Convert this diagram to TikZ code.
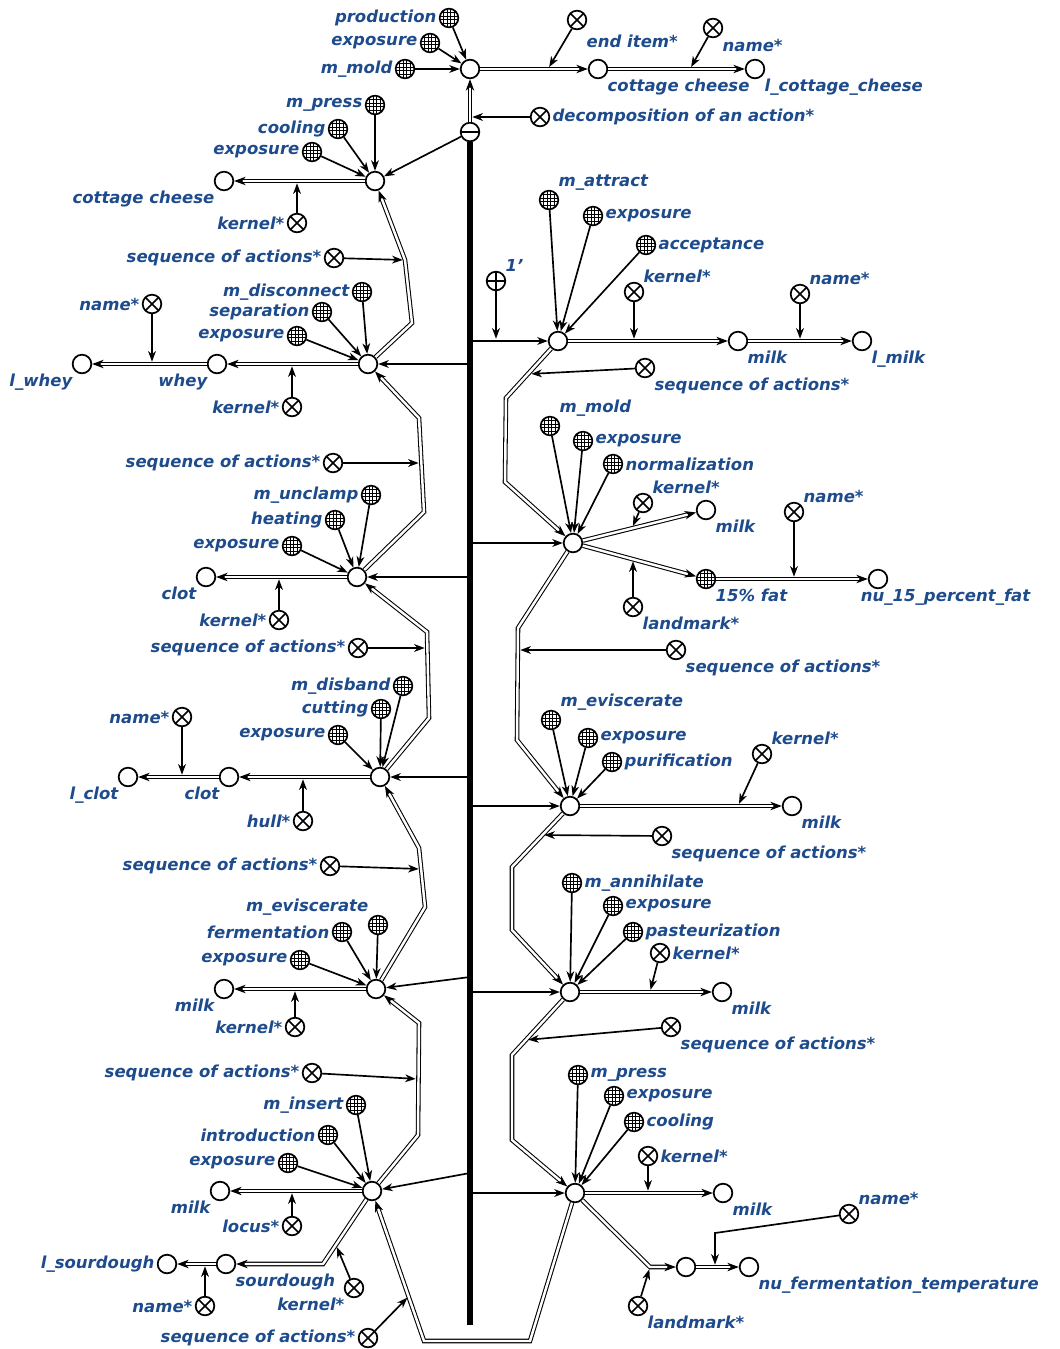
\documentclass[tikz,border=0pt]{standalone}
\usepackage{fontspec}
\setmainfont{DejaVu Sans}
\usepackage{tikz}
\usetikzlibrary{positioning,calc,arrows.meta}
\definecolor{LabelBlue}{HTML}{1E4B8C}
\definecolor{Ink}{HTML}{000000}

\tikzset{
	sc/.style={circle, draw=Ink, fill=white, line width=1pt, minimum size=10.6pt, inner sep=0pt},
	scclass/.style={sc, path picture={
			\foreach \off in {-3,-1,1,3}{
				\draw[line width=0.45pt] ([xshift=\off pt]path picture bounding box.north) -- ([xshift=\off pt]path picture bounding box.south);
				\draw[line width=0.45pt] ([yshift=\off pt]path picture bounding box.west) -- ([yshift=\off pt]path picture bounding box.east);
			}}},
	screl/.style={sc, path picture={
			\draw[line width=0.9pt] (path picture bounding box.north west) -- (path picture bounding box.south east);
			\draw[line width=0.9pt] (path picture bounding box.north east) -- (path picture bounding box.south west);
		}},
	scplus/.style={sc, path picture={
			\draw[line width=0.9pt] (path picture bounding box.north) -- (path picture bounding box.south);
			\draw[line width=0.9pt] (path picture bounding box.west) -- (path picture bounding box.east);
		}},
	scminus/.style={sc, path picture={
			\draw[line width=1.2pt] (path picture bounding box.west) -- (path picture bounding box.east);
		}},
	lbl/.style={text=LabelBlue, font=\bfseries\itshape\fontsize{9.4}{10}\selectfont, inner sep=1.2pt},
	arr/.style={draw=Ink, line width=0.95pt, -{Stealth[length=6pt,width=4.4pt,inset=1.8pt]}},
	attr/.style={arr, shorten >=1.3pt},
	pair/.style={draw=Ink, double=white, double distance=1.4pt, line width=0.6pt, -{Stealth[length=6.5pt,width=4.8pt,inset=1.9pt]}},
	bar/.style={draw=Ink, line width=3pt}
}

\begin{document}
\begin{tikzpicture}[x=0.02cm, y=-0.02cm]
	\useasboundingbox (0,0) rectangle (1060,1349);

	% top: the action as a whole
	\node[sc] (top) at (470,69) {};
	\node[scclass, label={[lbl]left:production}] (prodTop) at (449,18) {};
	\node[scclass, label={[lbl]left:exposure}] (expTop) at (430,43) {};
	\node[scclass, label={[lbl]left:m\_mold}] (moldTop) at (405,69) {};
	\node[scminus] (root) at (470,132) {};
	\node[screl, label={[lbl]right:decomposition of an action*}] (decomp) at (540,117) {};
	\node[screl, label={[lbl,yshift=-3pt]below right:end item*}] (endItem) at (577,20) {};
	\node[sc, label={[lbl]below right:cottage cheese}] (cheeseTop) at (598,69) {};
	\node[screl, label={[lbl,yshift=-1pt]below right:name*}] (nameTop) at (713,28) {};
	\node[sc, label={[lbl]below right:l\_cottage\_cheese}] (lCheese) at (755,69) {};
	\coordinate (decompTip) at (470,117);
	\coordinate (endItemTip) at (548,69);
	\coordinate (nameTopTip) at (690,69);
	\coordinate (barEnd) at (470,1325);

	\draw[bar] (root) -- (barEnd);
	\draw[pair] (root) -- (top);
	\draw[attr] (decomp) -- (decompTip);
	\foreach \src in {prodTop,expTop,moldTop} \draw[arr] (\src) -- (top);
	\draw[pair] (top) -- (cheeseTop);
	\draw[attr] (endItem) -- (endItemTip);
	\draw[pair] (cheeseTop) -- (lCheese);
	\draw[attr] (nameTop) -- (nameTopTip);

	% left chain
	\node[sc] (actL1) at (375,181) {};
	\node[scclass, label={[lbl]left:m\_press}] (pressL1) at (375,105) {};
	\node[scclass, label={[lbl]left:cooling}] (coolL1) at (338,129) {};
	\node[scclass, label={[lbl]left:exposure}] (expL1) at (312,152) {};
	\node[sc, label={[lbl]below left:cottage cheese}] (cheeseL1) at (224,181) {};
	\node[screl, label={[lbl]left:kernel*}] (kernL1) at (297,223) {};
	\node[screl, label={[lbl]left:sequence of actions*}] (seqL1) at (334,258) {};

	\node[sc] (actL2) at (368,364) {};
	\node[scclass, label={[lbl]left:m\_disconnect}] (discL2) at (362,292) {};
	\node[scclass, label={[lbl]left:separation}] (sepL2) at (322,312) {};
	\node[scclass, label={[lbl]left:exposure}] (expL2) at (297,336) {};
	\node[sc, label={[lbl]below left:whey}] (wheyL2) at (217,364) {};
	\node[sc, label={[lbl]below left:l\_whey}] (lWhey) at (82,364) {};
	\node[screl, label={[lbl]left:kernel*}] (kernL2) at (292,407) {};
	\node[screl, label={[lbl]left:name*}] (nameL2) at (152,304) {};
	\node[screl, label={[lbl]left:sequence of actions*}] (seqL2) at (333,463) {};

	\node[sc] (actL3) at (357,577) {};
	\node[scclass, label={[lbl]left:m\_unclamp}] (unclampL3) at (371,495) {};
	\node[scclass, label={[lbl]left:heating}] (heatL3) at (335,520) {};
	\node[scclass, label={[lbl]left:exposure}] (expL3) at (292,546) {};
	\node[sc, label={[lbl]below left:clot}] (clotL3) at (206,577) {};
	\node[screl, label={[lbl]left:kernel*}] (kernL3) at (279,620) {};
	\node[screl, label={[lbl]left:sequence of actions*}] (seqL3) at (358,648) {};

	\node[sc] (actL4) at (380,777) {};
	\node[scclass, label={[lbl]left:m\_disband}] (disbandL4) at (403,686) {};
	\node[scclass, label={[lbl]left:cutting}] (cutL4) at (381,709) {};
	\node[scclass, label={[lbl]left:exposure}] (expL4) at (338,735) {};
	\node[sc, label={[lbl]below left:clot}] (clotL4) at (229,777) {};
	\node[sc, label={[lbl]below left:l\_clot}] (lClot) at (128,777) {};
	\node[screl, label={[lbl]left:hull*}] (hullL4) at (303,821) {};
	\node[screl, label={[lbl]left:name*}] (nameL4) at (182,717) {};
	\node[screl, label={[lbl]left:sequence of actions*}] (seqL4) at (330,866) {};

	\node[sc] (actL5) at (376,989) {};
	\node[scclass, label={[lbl]above left:m\_eviscerate}] (evL5) at (378,925) {};
	\node[scclass, label={[lbl]left:fermentation}] (fermL5) at (342,932) {};
	\node[scclass, label={[lbl]left:exposure}] (expL5) at (300,960) {};
	\node[sc, label={[lbl]below left:milk}] (milkL5) at (224,989) {};
	\node[screl, label={[lbl]left:kernel*}] (kernL5) at (295,1027) {};
	\node[screl, label={[lbl]left:sequence of actions*}] (seqL5) at (312,1073) {};

	\node[sc] (actL6) at (372,1191) {};
	\node[scclass, label={[lbl]left:m\_insert}] (insL6) at (356,1105) {};
	\node[scclass, label={[lbl]left:introduction}] (introL6) at (328,1135) {};
	\node[scclass, label={[lbl]left:exposure}] (expL6) at (288,1163) {};
	\node[sc, label={[lbl]below left:milk}] (milkL6) at (220,1191) {};
	\node[screl, label={[lbl]left:locus*}] (locusL6) at (292,1226) {};
	\node[sc, label={[lbl]below right:sourdough}] (sourL6) at (226,1264) {};
	\node[screl, label={[lbl]below left:kernel*}] (kernL6) at (354,1288) {};
	\node[sc, label={[lbl]left:l\_sourdough}] (lSour) at (167,1264) {};
	\node[screl, label={[lbl]left:name*}] (nameL6) at (205,1306) {};
	\node[screl, label={[lbl]left:sequence of actions*}] (seqL6) at (368,1338) {};

	\coordinate (bendL12) at (405,260);
	\coordinate (seqL2Tip) at (421,463);
	\coordinate (seqL3Tip) at (427,648);
	\coordinate (seqL4Tip) at (421,869);
	\coordinate (seqL5Tip) at (418,1079);
	\coordinate (seqL6Tip) at (409,1296);
	\coordinate (kernL6Tip) at (336,1245);
	\coordinate (barL5) at (470,977);
	\coordinate (barL6) at (470,1173);

	\draw[arr] (root) -- (actL1);
	\foreach \src in {pressL1,coolL1,expL1} \draw[arr] (\src) -- (actL1);
	\draw[pair] (actL1) -- (cheeseL1);
	\draw[attr] (kernL1) -- (kernL1 |- actL1);
	\draw[pair] (actL2) -- (412,323) -- (bendL12) -- (actL1);
	\draw[attr] (seqL1) -- (bendL12);

	\draw[arr] (root |- actL2) -- (actL2);
	\foreach \src in {discL2,sepL2,expL2} \draw[arr] (\src) -- (actL2);
	\draw[pair] (actL2) -- (wheyL2);
	\draw[pair] (wheyL2) -- (lWhey);
	\draw[attr] (kernL2) -- (kernL2 |- actL2);
	\draw[attr] (nameL2) -- (nameL2 |- wheyL2);
	\draw[pair] (actL3) -- (424,512) -- (419,418) -- (actL2);
	\draw[attr] (seqL2) -- (seqL2Tip);

	\draw[arr] (root |- actL3) -- (actL3);
	\foreach \src in {unclampL3,heatL3,expL3} \draw[arr] (\src) -- (actL3);
	\draw[pair] (actL3) -- (clotL3);
	\draw[attr] (kernL3) -- (kernL3 |- actL3);
	\draw[pair] (actL4) -- (429,718) -- (427,632) -- (actL3);
	\draw[attr] (seqL3) -- (seqL3Tip);

	\draw[arr] (root |- actL4) -- (actL4);
	\foreach \src in {disbandL4,cutL4,expL4} \draw[arr] (\src) -- (actL4);
	\draw[pair] (actL4) -- (clotL4);
	\draw[pair] (clotL4) -- (lClot);
	\draw[attr] (hullL4) -- (hullL4 |- actL4);
	\draw[attr] (nameL4) -- (nameL4 |- clotL4);
	\draw[pair] (actL5) -- (425,907) -- (419,848) -- (actL4);
	\draw[attr] (seqL4) -- (seqL4Tip);

	\draw[arr] (barL5) -- (actL5);
	\foreach \src in {evL5,fermL5,expL5} \draw[arr] (\src) -- (actL5);
	\draw[pair] (actL5) -- (milkL5);
	\draw[attr] (kernL5) -- (kernL5 |- actL5);
	\draw[pair] (actL6) -- (418,1135) -- (419,1023) -- (actL5);
	\draw[attr] (seqL5) -- (seqL5Tip);

	\draw[arr] (barL6) -- (actL6);
	\foreach \src in {insL6,introL6,expL6} \draw[arr] (\src) -- (actL6);
	\draw[pair] (actL6) -- (milkL6);
	\draw[attr] (locusL6) -- (locusL6 |- actL6);
	\draw[pair] (actL6) -- (323,1264) -- (sourL6);
	\draw[attr] (kernL6) -- (kernL6Tip);
	\draw[pair] (sourL6) -- (lSour);
	\draw[attr] (nameL6) -- (nameL6 |- sourL6);

	% right chain
	\node[sc] (actR1) at (558,341) {};
	\node[scclass, label={[lbl]above right:m\_attract}] (attractR1) at (549,200) {};
	\node[scclass, label={[lbl]right:exposure}] (expR1) at (593,216) {};
	\node[scclass, label={[lbl]right:acceptance}] (accR1) at (646,245) {};
	\node[scplus, label={[lbl]above right:1'}] (oneR1) at (496,281) {};
	\node[screl, label={[lbl]above right:kernel*}] (kernR1) at (634,292) {};
	\node[sc, label={[lbl]below right:milk}] (milkR1) at (738,341) {};
	\node[sc, label={[lbl]below right:l\_milk}] (lMilk) at (862,341) {};
	\node[screl, label={[lbl]above right:name*}] (nameR1) at (800,294) {};
	\node[screl, label={[lbl]below right:sequence of actions*}] (seqR1) at (645,368) {};

	\node[sc] (actR2) at (573,543) {};
	\node[scclass, label={[lbl]above right:m\_mold}] (moldR2) at (550,426) {};
	\node[scclass, label={[lbl]right:exposure}] (expR2) at (583,441) {};
	\node[scclass, label={[lbl]right:normalization}] (normR2) at (613,464) {};
	\node[screl, label={[lbl]above right:kernel*}] (kernR2) at (643,503) {};
	\node[sc, label={[lbl]below right:milk}] (milkR2) at (706,510) {};
	\node[scclass, label={[lbl]below right:15\% fat}] (fatR2) at (706,579) {};
	\node[screl, label={[lbl]below right:landmark*}] (markR2) at (633,607) {};
	\node[sc, label={[lbl,anchor=north west,xshift=-7pt]south west:nu\_15\_percent\_fat}] (nuFat) at (878,579) {};
	\node[screl, label={[lbl]above right:name*}] (nameR2) at (794,512) {};
	\node[screl, label={[lbl]below right:sequence of actions*}] (seqR2) at (676,650) {};

	\node[sc] (actR3) at (570,806) {};
	\node[scclass, label={[lbl]above right:m\_eviscerate}] (evR3) at (551,720) {};
	\node[scclass, label={[lbl]right:exposure}] (expR3) at (588,738) {};
	\node[scclass, label={[lbl]right:purification}] (purR3) at (612,762) {};
	\node[screl, label={[lbl]above right:kernel*}] (kernR3) at (762,754) {};
	\node[sc, label={[lbl]below right:milk}] (milkR3) at (792,806) {};
	\node[screl, label={[lbl]below right:sequence of actions*}] (seqR3) at (662,836) {};

	\node[sc] (actR4) at (570,992) {};
	\node[scclass, label={[lbl]right:m\_annihilate}] (annR4) at (572,883) {};
	\node[scclass, label={[lbl]right:exposure}] (expR4) at (613,906) {};
	\node[scclass, label={[lbl]right:pasteurization}] (pastR4) at (633,932) {};
	\node[screl, label={[lbl]right:kernel*}] (kernR4) at (660,953) {};
	\node[sc, label={[lbl]below right:milk}] (milkR4) at (722,992) {};
	\node[screl, label={[lbl]below right:sequence of actions*}] (seqR4) at (671,1027) {};

	\node[sc] (actR5) at (575,1193) {};
	\node[scclass, label={[lbl]right:m\_press}] (pressR5) at (578,1075) {};
	\node[scclass, label={[lbl]right:exposure}] (expR5) at (614,1096) {};
	\node[scclass, label={[lbl]right:cooling}] (coolR5) at (634,1122) {};
	\node[screl, label={[lbl]right:kernel*}] (kernR5) at (648,1156) {};
	\node[sc, label={[lbl]below right:milk}] (milkR5) at (723,1193) {};
	\node[sc] (tempR5) at (686,1267) {};
	\node[sc, label={[lbl]below right:nu\_fermentation\_temperature}] (nuTemp) at (749,1267) {};
	\node[screl, label={[lbl]below right:landmark*}] (markR5) at (638,1306) {};
	\node[screl, label={[lbl]above right:name*}] (nameR5) at (849,1214) {};

	\coordinate (seqR1Tip) at (529,374);
	\coordinate (kernR2Tip) at (632,528);
	\coordinate (markR2Tip) at (633,559);
	\coordinate (seqR2Tip) at (518,650);
	\coordinate (kernR3Tip) at (738,806);
	\coordinate (seqR3Tip) at (542,835);
	\coordinate (kernR4Tip) at (650,992);
	\coordinate (seqR4Tip) at (526,1040);
	\coordinate (bendR5) at (650,1267);
	\coordinate (nameR5Tip) at (715,1267);

	\draw[arr] (root |- actR1) -- (actR1);
	\draw[attr] (oneR1) -- (oneR1 |- actR1);
	\foreach \src in {attractR1,expR1,accR1} \draw[arr] (\src) -- (actR1);
	\draw[pair] (actR1) -- (milkR1);
	\draw[attr] (kernR1) -- (kernR1 |- actR1);
	\draw[pair] (milkR1) -- (lMilk);
	\draw[attr] (nameR1) -- (nameR1 |- milkR1);
	\draw[pair] (actR1) -- (506,398) -- (505,482) -- (actR2);
	\draw[attr] (seqR1) -- (seqR1Tip);

	\draw[arr] (root |- actR2) -- (actR2);
	\foreach \src in {moldR2,expR2,normR2} \draw[arr] (\src) -- (actR2);
	\draw[pair] (actR2) -- (milkR2);
	\draw[attr] (kernR2) -- (kernR2Tip);
	\draw[pair] (actR2) -- (fatR2);
	\draw[attr] (markR2) -- (markR2Tip);
	\draw[pair] (fatR2) -- (nuFat);
	\draw[attr] (nameR2) -- (nameR2 |- fatR2);
	\draw[pair] (actR2) -- (518,628) -- (517,740) -- (actR3);
	\draw[attr] (seqR2) -- (seqR2Tip);

	\draw[arr] (root |- actR3) -- (actR3);
	\foreach \src in {evR3,expR3,purR3} \draw[arr] (\src) -- (actR3);
	\draw[pair] (actR3) -- (milkR3);
	\draw[attr] (kernR3) -- (kernR3Tip);
	\draw[pair] (actR3) -- (512,867) -- (512,930) -- (actR4);
	\draw[attr] (seqR3) -- (seqR3Tip);

	\draw[arr] (root |- actR4) -- (actR4);
	\foreach \src in {annR4,expR4,pastR4} \draw[arr] (\src) -- (actR4);
	\draw[pair] (actR4) -- (milkR4);
	\draw[attr] (kernR4) -- (kernR4Tip);
	\draw[pair] (actR4) -- (512,1055) -- (512,1140) -- (actR5);
	\draw[attr] (seqR4) -- (seqR4Tip);

	\draw[arr] (root |- actR5) -- (actR5);
	\foreach \src in {pressR5,expR5,coolR5} \draw[arr] (\src) -- (actR5);
	\draw[pair] (actR5) -- (milkR5);
	\draw[attr] (kernR5) -- (kernR5 |- actR5);
	\draw[pair] (actR5) -- (bendR5) -- (tempR5);
	\draw[attr] (markR5) -- (bendR5);
	\draw[pair] (tempR5) -- (nuTemp);
	\draw[attr] (nameR5) -- (715,1233) -- (nameR5Tip);

	% back to the start of the left chain
	\draw[pair] (actR5) -- (530,1341) -- (424,1341) -- (actL6);
	\draw[attr] (seqL6) -- (seqL6Tip);
\end{tikzpicture}
\end{document}
